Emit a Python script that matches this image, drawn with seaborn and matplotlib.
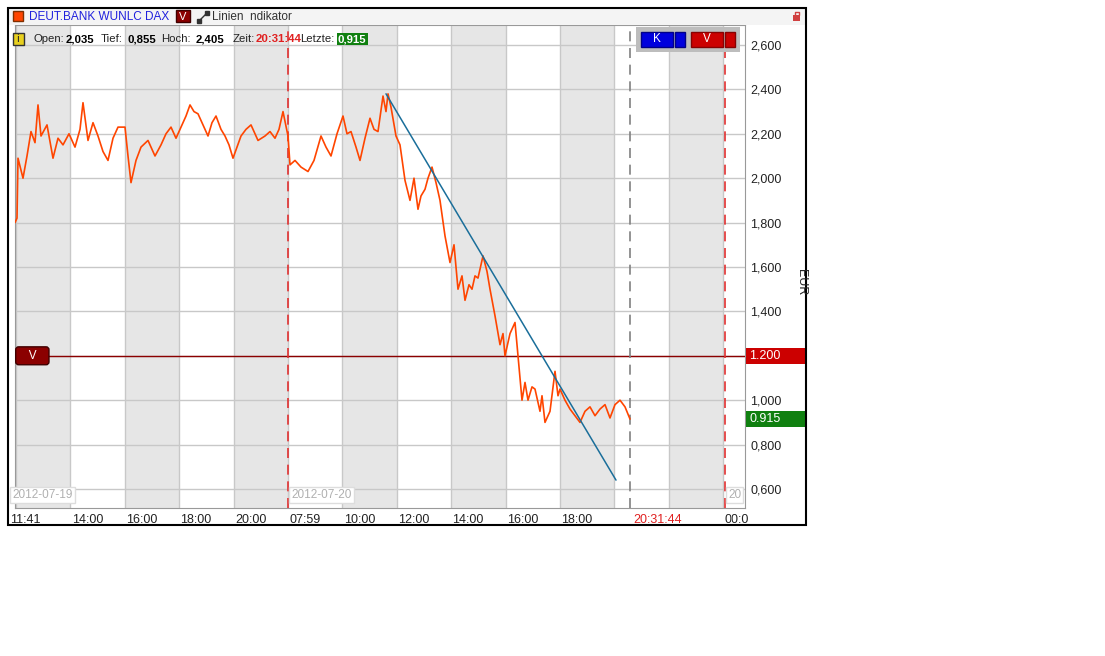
import matplotlib
matplotlib.use("Agg")
import matplotlib.pyplot as plt
import seaborn as sns
import pandas as pd
from matplotlib.patches import Rectangle

sns.set_theme(style="white")
plt.rcParams['font.family'] = ['Liberation Sans', 'DejaVu Sans']

W, H = 1105, 656
def rect(x0, y0, x1, y1):
    return [x0 / W, 1 - y1 / H, (x1 - x0) / W, (y1 - y0) / H]

px = [15, 17, 18, 23, 27, 31, 35, 38, 41, 47, 53, 58, 63, 69, 75, 80, 83, 88, 93, 98, 103, 108,
      113, 118, 125, 128, 131, 136, 141, 148, 155, 161, 166, 171, 176, 181, 186, 190, 194, 198,
      203, 208, 212, 216, 221, 225, 229, 233, 237, 241, 246, 251, 258, 265, 270, 275, 279, 283,
      288, 290, 295, 301, 308, 314, 321, 326, 331, 337, 343, 347, 351, 356, 360, 365, 370, 374,
      378, 383, 386, 388, 391, 396, 400, 405, 410, 414, 418, 421, 425, 428, 432, 436, 440, 445,
      450, 454, 458, 462, 465, 469, 472, 475, 478, 483, 487, 490, 495, 500, 503, 505, 510, 515,
      518, 522, 525, 528, 532, 535, 540, 542, 545, 550, 555, 558, 560, 565, 570, 575, 580, 585,
      590, 595, 600, 605, 610, 615, 620, 625, 630]
price = [1.80, 1.82, 2.09, 2.00, 2.10, 2.21, 2.16, 2.33, 2.19, 2.24, 2.09, 2.18, 2.15, 2.20, 2.14,
         2.22, 2.34, 2.17, 2.25, 2.19, 2.12, 2.08, 2.18, 2.23, 2.23, 2.10, 1.98, 2.08, 2.14, 2.17,
         2.10, 2.15, 2.20, 2.23, 2.18, 2.23, 2.28, 2.33, 2.30, 2.29, 2.24, 2.19, 2.25, 2.28, 2.22,
         2.19, 2.15, 2.09, 2.14, 2.19, 2.22, 2.24, 2.17, 2.19, 2.21, 2.18, 2.22, 2.30, 2.19, 2.06,
         2.08, 2.05, 2.03, 2.08, 2.19, 2.14, 2.10, 2.20, 2.28, 2.20, 2.21, 2.14, 2.08, 2.18, 2.27,
         2.22, 2.21, 2.37, 2.30, 2.38, 2.32, 2.19, 2.15, 1.99, 1.90, 2.00, 1.86, 1.92, 1.95, 2.00,
         2.05, 1.98, 1.90, 1.74, 1.62, 1.70, 1.50, 1.56, 1.45, 1.52, 1.50, 1.56, 1.55, 1.65, 1.58,
         1.50, 1.38, 1.25, 1.30, 1.20, 1.30, 1.35, 1.20, 1.00, 1.08, 1.00, 1.06, 1.05, 0.95, 1.02,
         0.90, 0.95, 1.13, 1.02, 1.05, 1.00, 0.96, 0.93, 0.90, 0.95, 0.97, 0.93, 0.96, 0.98, 0.92,
         0.98, 1.00, 0.97, 0.915]
trend_x = [386, 616]
trend_y = [2.38, 0.64]
yticks = [0.6, 0.8, 1.0, 1.4, 1.6, 1.8, 2.0, 2.2, 2.4, 2.6]
xtick_h = [14, 16, 18, 20, 22, 24, 26, 28, 30, 32, 38]
xtick_lab = ["14:00", "16:00", "18:00", "20:00", "07:59", "10:00", "12:00", "14:00", "16:00", "18:00", "00:0"]

def h_of(x):
    return 12 + (x - 16) / 27.2

df = pd.DataFrame({"h": [h_of(x) for x in px], "price": price})

fig = plt.figure(figsize=(W / 100, H / 100), dpi=100)
ax = fig.add_axes(rect(15, 25, 745, 508))
ax.set_xlim(h_of(15), h_of(745))
ax.set_ylim(0.5144, 2.690)

for b in range(12, 40, 4):
    ax.axvspan(b, b + 2, color="#e6e6e6", zorder=0, lw=0)
for v in yticks + [1.2]:
    ax.axhline(v, color="#c8c8c8", lw=1, zorder=1)
for h in range(12, 40, 2):
    ax.axvline(h, color="#c8c8c8", lw=1, zorder=1)

sns.lineplot(data=df, x="h", y="price", ax=ax, color="#ff4500", lw=1.2, zorder=4)
ax.plot([h_of(x) for x in trend_x], trend_y, color="#1a6e9a", lw=1.1, zorder=5)
ax.axhline(1.2, color="#8b0000", lw=1, zorder=3)
ax.axvline(22, color="#e03030", lw=1.2, ls=(0, (6, 4)), zorder=3)
ax.axvline(h_of(725), color="#e03030", lw=1.2, ls=(0, (6, 4)), zorder=3)
ax.axvline(h_of(630), color="#808080", lw=1.2, ls=(0, (6, 4)), zorder=3)

ax.set_xlabel(""); ax.set_ylabel("")
ax.set_xticks([]); ax.yaxis.tick_right()
ax.set_yticks(yticks)
ax.set_yticklabels([f"{v:.3f}".replace(".", ",") for v in yticks], fontsize=9, color="#222222")
ax.tick_params(axis="y", length=0, pad=4)
for s in ax.spines.values():
    s.set_color("#999999"); s.set_linewidth(0.8)

tr = ax.get_xaxis_transform()
for h, lab in zip(xtick_h, xtick_lab):
    ax.text(h + 0.05, -0.012, lab, transform=tr, ha="left", va="top", fontsize=9, color="#222222", clip_on=False)
ax.text(h_of(10), -0.012, "11:41", transform=tr, ha="left", va="top", fontsize=9, color="#222222", clip_on=False)
ax.text(h_of(633), -0.012, "20:31:44", transform=tr, ha="left", va="top", fontsize=9, color="#e02020", clip_on=False)
for xx, lab in [(h_of(12), "2012-07-19"), (h_of(291), "2012-07-20"), (h_of(728), "20")]:
    ax.text(xx, 0.014, lab, transform=tr, ha="left", va="bottom", fontsize=8.5, color="#b0b0b0",
            bbox=dict(fc="white", ec="#dddddd", pad=1.5), zorder=6)

# price boxes on the right axis
rb = fig.add_axes(rect(745, 25, 806, 508)); rb.set_xlim(745, 806); rb.set_ylim(ax.get_ylim()); rb.axis("off")
rb.add_patch(Rectangle((746, 1.2 - 0.036), 60, 0.072, fc="#cc0000", ec="none"))
rb.add_patch(Rectangle((746, 0.915 - 0.036), 60, 0.072, fc="#108010", ec="none"))
rb.text(749, 1.2, "1.200", color="white", va="center", fontsize=9)
rb.text(749, 0.915, "0.915", color="white", va="center", fontsize=9)
ax.text(0.005, 1.2, "   V   ", transform=ax.get_yaxis_transform(), ha="left", va="center", fontsize=8.5,
        color="white", bbox=dict(boxstyle="round,pad=0.25", fc="#8b0000", ec="#400000"), zorder=7)

# K / V buttons
bx = fig.add_axes(rect(636, 27, 740, 52)); bx.set_xlim(0, 104); bx.set_ylim(0, 25); bx.axis("off")
bx.add_patch(Rectangle((0, 0), 104, 25, fc="#bdbdbd", ec="none"))
bx.add_patch(Rectangle((5, 5), 32, 15, fc="#0000dd", ec="#000088"))
bx.add_patch(Rectangle((39, 5), 10, 15, fc="#0000dd", ec="#000088"))
bx.add_patch(Rectangle((55, 5), 32, 15, fc="#cc0000", ec="#880000"))
bx.add_patch(Rectangle((89, 5), 10, 15, fc="#cc0000", ec="#880000"))
bx.text(21, 12.5, "K", color="white", ha="center", va="center", fontsize=8.5)
bx.text(71, 12.5, "V", color="white", ha="center", va="center", fontsize=8.5)

fig.text(801 / W, 1 - 282 / H, "EUR", rotation=-90, ha="center", va="center", fontsize=9)

# header
hd = fig.add_axes(rect(8, 8, 806, 25)); hd.set_xlim(8, 806); hd.set_ylim(25, 8); hd.axis("off")
hd.add_patch(Rectangle((8, 8), 798, 17, fc="#f4f4f4", ec="none"))
hd.add_patch(Rectangle((13, 11), 10, 10, fc="#ff4500", ec="#803000"))
hd.text(29, 16.5, "DEUT.BANK WUNLC DAX", color="#2020dd", va="center", fontsize=8.5)
hd.add_patch(Rectangle((176, 10), 14, 12, fc="#8b0000", ec="#400000"))
hd.text(183, 16.5, "V", color="white", ha="center", va="center", fontsize=8)
hd.plot([199, 207], [21, 13], color="#333333", lw=1, marker="s", ms=2.5)
hd.text(212, 16.5, "Linien  ndikator", color="#333333", va="center", fontsize=8.5)
hd.add_patch(Rectangle((793, 15), 7, 6, fc="#d04040", ec="none"))
hd.plot([794.5, 794.5, 798.5, 798.5], [15, 12, 12, 15], color="#d04040", lw=1)

# info line
fig.text(14 / W, 1 - 39 / H, " i ", fontsize=8, va="center",
         bbox=dict(fc="#e8d020", ec="#333333", pad=1))
items = [(33, "Open:", "#222222", False), (66, "2,035", "#000000", True), (101, "Tief:", "#222222", False),
         (127, "0,855", "#000000", True), (161, "Hoch:", "#222222", False), (196, "2,405", "#000000", True),
         (233, "Zeit:", "#222222", False), (256, "20:31:44", "#e02020", True), (300, "Letzte:", "#222222", False)]
for x, t, c, b in items:
    fig.text(x / W, 1 - 39 / H, t, fontsize=8.2, color=c, va="center", weight="bold" if b else "normal")
fig.text(338 / W, 1 - 39 / H, "0,915", fontsize=8.2, color="white", va="center", weight="bold",
         bbox=dict(fc="#108010", ec="none", pad=1))

# outer frame
fig.add_artist(Rectangle((8 / W, 1 - 525 / H), 798 / W, 517 / H, transform=fig.transFigure,
                         fill=False, ec="black", lw=1.5))
fig.savefig("out.png", dpi=100)
